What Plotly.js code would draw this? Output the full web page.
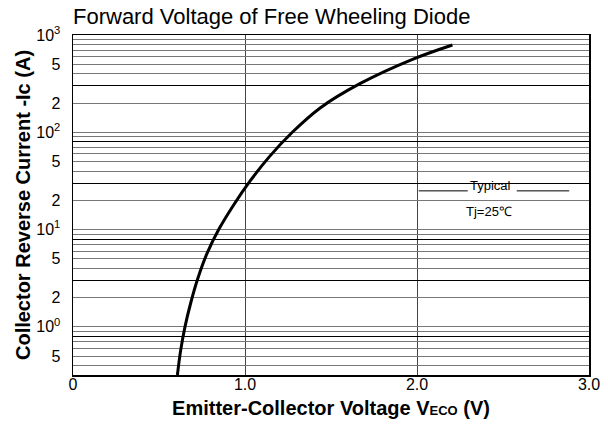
<!DOCTYPE html>
<html>
<head>
<meta charset="utf-8">
<script src="https://cdn.plot.ly/plotly-3.0.1.min.js"></script>
<style>html,body{margin:0;padding:0;background:#fff;}#chart{width:608px;height:432px;}</style>
</head>
<body>
<div id="chart"></div>
<script>
// Curve (V_ECO in volts, -Ic in amperes)
const vEco  = [0.607, 0.625, 0.651, 0.685, 0.726, 0.778, 0.847, 0.933, 1.030, 1.142, 1.275, 1.437, 1.668, 1.974, 2.206];
const icRev = [0.32,  0.56,  1.0,   1.78,  3.16,  5.62,  10,    17.8,  31.6,  56.2,  100,   178,   316,   562,   789];

// Y grid values and labels
const yGridVals = [0.4,0.5,0.6,0.7,0.8,0.9,1,2,3,4,5,6,7,8,9,10,20,30,40,50,60,70,80,90,100,200,300,400,500,600,700,800,900,1000];
const yLabelMap = {0.5:'5', 1:'10<sup>0</sup>', 2:'2', 5:'5', 10:'10<sup>1</sup>', 20:'2', 50:'5', 100:'10<sup>2</sup>', 200:'2', 500:'5', 1000:'10<sup>3</sup>'};
const yDarkVals = [0.8, 3, 8, 30, 80, 300];
const xTickVals = [0, 1, 2, 3];
const xTickText = ['0', '1.0', '2.0', '3.0'];

const yTickText = yGridVals.map(v => yLabelMap[v] || '');
const FONT = 'Liberation Sans, Arial, Helvetica, sans-serif';

const data = [
  {x: vEco, y: icRev, type: 'scatter', mode: 'lines',
   line: {color: '#000', width: 3, shape: 'spline', smoothing: 1},
   hoverinfo: 'skip', showlegend: false},
  {x: [0], y: [1], yaxis: 'y2', type: 'scatter', mode: 'markers',
   marker: {opacity: 0}, hoverinfo: 'skip', showlegend: false}
];

const layout = {
  width: 608, height: 432,
  margin: {l: 73, r: 19, t: 35, b: 57},
  paper_bgcolor: '#fff', plot_bgcolor: '#fff',
  font: {family: FONT, color: '#000', size: 16},
  title: {text: 'Forward Voltage of Free Wheeling Diode', font: {family: FONT, size: 22, color: '#000'},
          x: 73/608, xanchor: 'left', xref: 'container', y: 1 - 16/432, yanchor: 'middle'},
  xaxis: {range: [0, 3], tickvals: xTickVals, ticktext: xTickText, ticks: '',
          showgrid: true, gridcolor: '#444', gridwidth: 1, zeroline: false,
          showline: true, linecolor: '#000', linewidth: 1.5, mirror: true,
          tickfont: {size: 16}, ticklabelstandoff: -6,
          title: {text: '<b>Emitter-Collector Voltage V<span style="font-size:13px">ECO</span> (V)</b>', font: {size: 20}, standoff: 9}},
  yaxis: {type: 'log', range: [Math.log10(0.32), 3], tickvals: yGridVals, ticktext: yTickText, ticks: '',
          showgrid: true, gridcolor: '#777', gridwidth: 1, zeroline: false,
          showline: true, linecolor: '#000', linewidth: 1.5, mirror: true,
          tickfont: {size: 16}, ticklabelstandoff: 8,
          title: {text: '<b>Collector Reverse Current -Ic (A)</b>', font: {size: 20}, standoff: 0}},
  yaxis2: {type: 'log', range: [Math.log10(0.32), 3], overlaying: 'y', tickvals: yDarkVals, showticklabels: false,
           ticks: '', showgrid: true, gridcolor: '#000', gridwidth: 1, zeroline: false, showline: false},
  shapes: [
    {type: 'line', xref: 'x', yref: 'y', x0: 2.01, x1: 2.295, y0: 25, y1: 25, line: {color: '#000', width: 1}},
    {type: 'line', xref: 'x', yref: 'y', x0: 2.58, x1: 2.885, y0: 25, y1: 25, line: {color: '#000', width: 1}}
  ],
  annotations: [
    {x: 2.43, y: Math.log10(25), xref: 'x', yref: 'y', text: 'Typical', showarrow: false, yanchor: 'bottom', yshift: -4,
     font: {size: 13, family: FONT}},
    {x: 2.42, y: Math.log10(15.2), xref: 'x', yref: 'y', text: 'Tj=25℃', showarrow: false,
     font: {size: 13, family: FONT}, bgcolor: '#fff'}
  ]
};

Plotly.newPlot('chart', data, layout, {staticPlot: true, displayModeBar: false});
</script>
</body>
</html>
